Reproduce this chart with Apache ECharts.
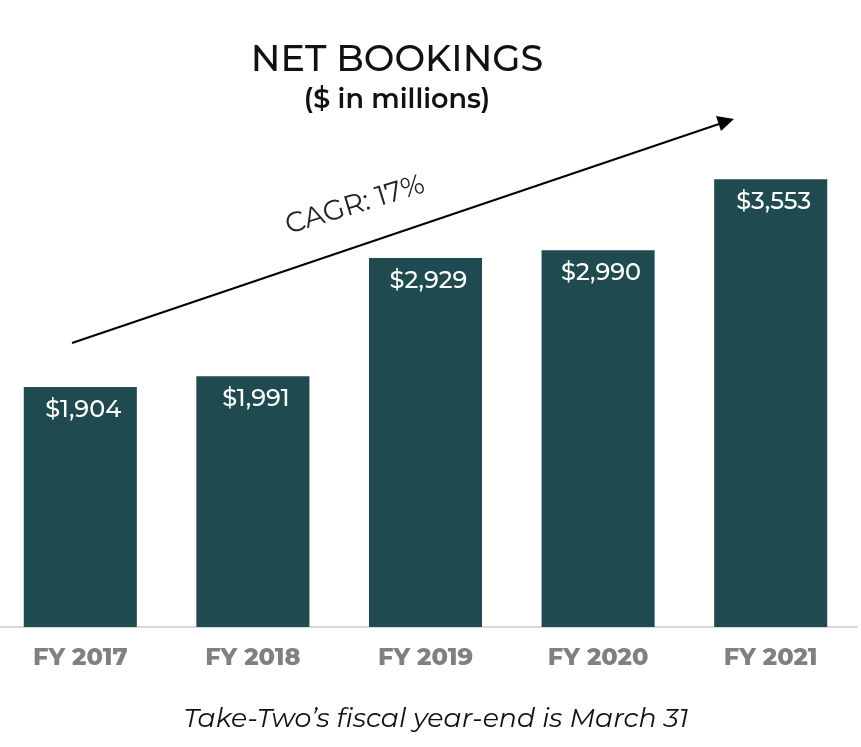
<!DOCTYPE html>
<html>
<head>
<meta charset="utf-8">
<script src="https://cdn.jsdelivr.net/npm/echarts@6/dist/echarts.min.js"></script>
<style>
  html, body { margin: 0; padding: 0; background: #fff; }
  #chart { width: 861px; height: 747px; }
</style>
</head>
<body>
<div id="chart"></div>
<script>
// fiscal years and net bookings ($ millions)
var years = ['FY 2017', 'FY 2018', 'FY 2019', 'FY 2020', 'FY 2021'];
var bookings = [1904, 1991, 2929, 2990, 3553];
var cagrText = 'CAGR: 17%';

var font = 'Montserrat, "Noto Sans", sans-serif';

var chart = echarts.init(document.getElementById('chart'));

var option = {
  backgroundColor: '#fff',
  animation: false,
  title: [{
    text: 'NET BOOKINGS',
    left: 392, top: 37,
    textAlign: 'center',
    textStyle: { fontFamily: font, fontSize: 36.5, fontWeight: 500, color: '#111' }
  }, {
    text: '($ in millions)',
    left: 392, top: 82,
    textAlign: 'center',
    textStyle: { fontFamily: font, fontSize: 27, fontWeight: 600, color: '#111' }
  }, {
    text: "Take-Two’s fiscal year-end is March 31",
    left: 431, top: 701,
    textAlign: 'center',
    textStyle: { fontFamily: font, fontSize: 26.8, fontStyle: 'italic', fontWeight: 'normal', color: '#111' }
  }],
  grid: {
    left: -6, right: 4, top: 123, bottom: 120,
    outerBoundsMode: 'none',
    containLabel: false
  },
  xAxis: {
    type: 'category',
    data: years,
    axisLine: { lineStyle: { color: '#d9d9d9', width: 2 } },
    axisTick: { show: false },
    axisLabel: {
      margin: 19,
      fontFamily: font, fontSize: 24, fontWeight: 800, color: '#808080'
    }
  },
  yAxis: {
    type: 'value',
    min: 0, max: 4000,
    show: false
  },
  series: [{
    type: 'bar',
    data: bookings,
    barCategoryGap: '34.5%',
    itemStyle: { color: '#1f4a50' },
    label: {
      show: true,
      position: 'insideTop',
      distance: 11,
      offset: [3, 0],
      fontFamily: font, fontSize: 24, fontWeight: 500, color: '#fff',
      formatter: function (p) { return '$' + p.value.toLocaleString('en-US'); }
    }
  }],
  graphic: [{
    type: 'line',
    shape: { x1: 72, y1: 343, x2: 722, y2: 123 },
    style: { stroke: '#000', lineWidth: 2 }
  }, {
    type: 'polygon',
    shape: { points: [[734, 119], [716, 116], [721, 131]] },
    style: { fill: '#000' }
  }, {
    type: 'text',
    x: 355, y: 205,
    rotation: 17 * Math.PI / 180,
    style: {
      text: cagrText,
      align: 'center', verticalAlign: 'middle',
      font: '400 28px ' + font,
      fill: '#222'
    }
  }]
};

chart.setOption(option);
</script>
</body>
</html>
